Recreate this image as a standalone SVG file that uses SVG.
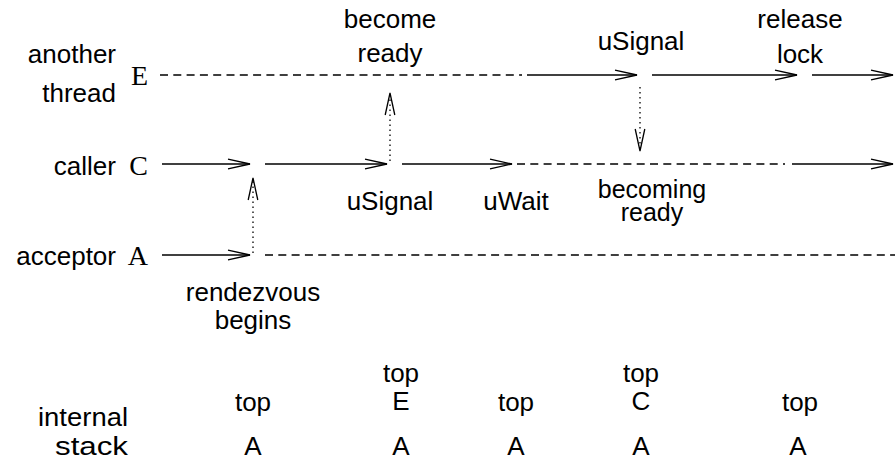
<svg xmlns="http://www.w3.org/2000/svg" width="895" height="464" viewBox="0 0 895 464">
  <style>
    .lbl { font-family: "Liberation Sans", Arial, sans-serif; font-size: 26px; fill: #000; }
    .sm { font-size: 25px; }
    .mid { text-anchor: middle; }
    .end { text-anchor: end; }
    .thr { font-family: "Liberation Serif", "Times New Roman", serif; font-size: 28px; fill: #000; text-anchor: end; }
    .stk { font-family: "Liberation Sans", Arial, sans-serif; font-size: 26px; fill: #000; text-anchor: middle; }
    .solid { stroke: #000; stroke-width: 1.3; fill: none; }
    .dash { stroke: #000; stroke-width: 1.3; fill: none; stroke-dasharray: 8 5.3; }
    .dot { stroke: #000; stroke-width: 1.3; fill: none; stroke-dasharray: 1.5 3.5; }
  </style>
  <defs>
    <marker id="open" markerUnits="userSpaceOnUse" markerWidth="30" markerHeight="14" refX="22" refY="7" orient="auto" overflow="visible">
      <path d="M0,2.2 L22,7 L0,11.8" stroke="#000" stroke-width="1.3" fill="none"/>
    </marker>
  </defs>

  <!-- thread labels -->
  <g id="thread-E">
    <text class="lbl end" x="116" y="63">another</text>
    <text class="lbl end" x="116" y="102">thread</text>
    <text class="thr" x="148" y="85">E</text>
  </g>
  <g id="thread-C">
    <text class="lbl end" x="116" y="175">caller</text>
    <text class="thr" x="148" y="175">C</text>
  </g>
  <g id="thread-A">
    <text class="lbl end" x="116" y="265">acceptor</text>
    <text class="thr" x="148" y="265">A</text>
  </g>

  <!-- event labels -->
  <g id="ev-become-ready">
    <text class="lbl mid" x="390" y="28">become</text>
    <text class="lbl mid" x="390" y="62">ready</text>
  </g>
  <g id="ev-usignal-E">
    <text class="lbl mid" x="641" y="50">uSignal</text>
  </g>
  <g id="ev-release-lock">
    <text class="lbl mid" x="800" y="28">release</text>
    <text class="lbl mid" x="800" y="63">lock</text>
  </g>
  <g id="ev-usignal-C">
    <text class="lbl mid" x="390" y="210">uSignal</text>
  </g>
  <g id="ev-uwait">
    <text class="lbl mid" x="516" y="210">uWait</text>
  </g>
  <g id="ev-becoming-ready">
    <text class="lbl sm mid" x="652" y="198">becoming</text>
    <text class="lbl sm mid" x="652" y="221">ready</text>
  </g>
  <g id="ev-rendezvous">
    <text class="lbl mid" x="253" y="301">rendezvous</text>
    <text class="lbl mid" x="253" y="329">begins</text>
  </g>

  <!-- internal stack states -->
  <g id="stack">
    <text class="lbl end" x="128" y="426" textLength="90" lengthAdjust="spacingAndGlyphs">internal</text>
    <text class="lbl end" x="128" y="455" textLength="73" lengthAdjust="spacingAndGlyphs">stack</text>
    <text class="stk" x="253" y="411">top</text>
    <text class="stk" x="253" y="455">A</text>
    <text class="stk" x="401" y="382">top</text>
    <text class="stk" x="401" y="410">E</text>
    <text class="stk" x="401" y="455">A</text>
    <text class="stk" x="516" y="411">top</text>
    <text class="stk" x="516" y="455">A</text>
    <text class="stk" x="641" y="382">top</text>
    <text class="stk" x="641" y="410">C</text>
    <text class="stk" x="641" y="455">A</text>
    <text class="stk" x="800" y="411">top</text>
    <text class="stk" x="798" y="455">A</text>
  </g>

  <!-- connectors -->
  <g id="connectors">
    <!-- thread E -->
    <path class="dash" d="M160,75 H522"/>
    <path class="solid" d="M527,75 H637" marker-end="url(#open)"/>
    <path class="solid" d="M652,75 H797" marker-end="url(#open)"/>
    <path class="solid" d="M812,75 H893" marker-end="url(#open)"/>
    <!-- thread C -->
    <path class="solid" d="M162,164 H250" marker-end="url(#open)"/>
    <path class="solid" d="M265,164 H387" marker-end="url(#open)"/>
    <path class="solid" d="M402,164 H512" marker-end="url(#open)"/>
    <path class="dash" d="M517,164 H785"/>
    <path class="solid" d="M792,164 H893" marker-end="url(#open)"/>
    <!-- thread A -->
    <path class="solid" d="M162,255 H250" marker-end="url(#open)"/>
    <path class="dash" d="M265,255 H895"/>
    <!-- signals between threads -->
    <path class="dot" d="M253,253 V178" marker-end="url(#open)"/>
    <path class="dot" d="M390,161 V93" marker-end="url(#open)"/>
    <path class="dot" d="M640,87 V151" marker-end="url(#open)"/>
  </g>
</svg>
